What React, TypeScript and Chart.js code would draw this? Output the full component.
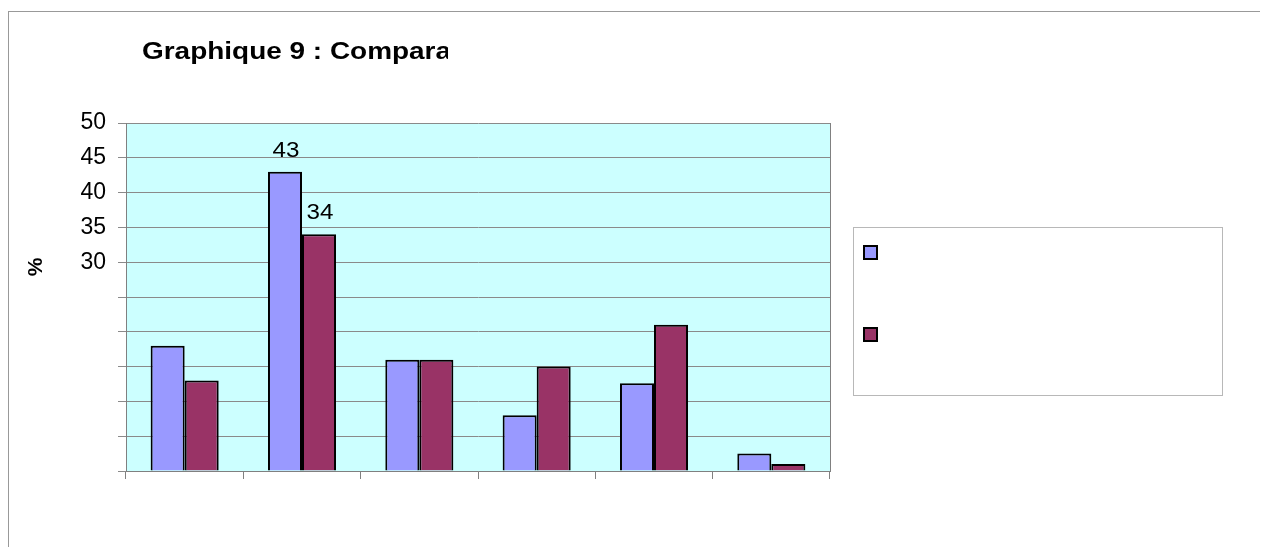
import { useEffect, useRef } from 'react';
import { Chart, registerables } from 'chart.js';

Chart.register(...registerables);

const categories = ['', '', '', '', '', ''];
const series1 = [18, 43, 16, 8, 12.6, 2.5];
const series2 = [13, 34, 16, 15, 21, 1];
const seriesLabels = ['', ''];
const seriesColors = ['#9999ff', '#993366'];
const yTickLabelsShown = [30, 35, 40, 45, 50];
const titleText = 'Graphique 9 : Compara';
const yTitle = '%';

const W = 1260;
const H = 540;

const decorPlugin = {
  id: 'decor',
  beforeDraw(chart: any) {
    const { ctx, chartArea } = chart;
    ctx.save();
    ctx.fillStyle = '#ccffff';
    ctx.fillRect(chartArea.left, chartArea.top, chartArea.right - chartArea.left, chartArea.bottom - chartArea.top);
    ctx.restore();
  },
  beforeDatasetsDraw(chart: any) {
    const { ctx, chartArea } = chart;
    ctx.save();
    ctx.strokeStyle = '#808080';
    ctx.lineWidth = 1;
    ctx.beginPath();
    ctx.moveTo(Math.round(chartArea.right) + 0.5, chartArea.top);
    ctx.lineTo(Math.round(chartArea.right) + 0.5, chartArea.bottom);
    ctx.stroke();
    ctx.restore();
  },
  afterDraw(chart: any) {
    const { ctx } = chart;
    // Title (clipped like the original)
    ctx.save();
    ctx.beginPath();
    ctx.rect(0, 0, 439, 120);
    ctx.clip();
    ctx.translate(133, 47);
    ctx.scale(1.215, 1);
    ctx.font = 'bold 23px "Liberation Sans", Arial, sans-serif';
    ctx.fillStyle = '#000';
    ctx.textBaseline = 'alphabetic';
    ctx.fillText(titleText, 0, 0);
    ctx.restore();

    // Y axis title
    ctx.save();
    ctx.translate(27, 255);
    ctx.rotate(-Math.PI / 2);
    ctx.font = 'bold 21px "Liberation Sans", Arial, sans-serif';
    ctx.fillStyle = '#000';
    ctx.textAlign = 'center';
    ctx.textBaseline = 'middle';
    ctx.fillText(yTitle, 0, 0);
    ctx.restore();

    // Value labels on series maxima
    chart.data.datasets.forEach((ds: any, di: number) => {
      const vals = ds.data as number[];
      let mi = 0;
      vals.forEach((v, i) => { if (v > vals[mi]) mi = i; });
      const el = chart.getDatasetMeta(di).data[mi];
      ctx.save();
      ctx.translate(el.x + 1, el.y - 15);
      ctx.scale(1.1, 1);
      ctx.font = '22px "Liberation Sans", Arial, sans-serif';
      ctx.fillStyle = '#000';
      ctx.textAlign = 'center';
      ctx.textBaseline = 'alphabetic';
      ctx.fillText(String(vals[mi]), 0, 0);
      ctx.restore();
    });

    // Legend box
    ctx.save();
    ctx.fillStyle = '#ffffff';
    ctx.fillRect(844, 215, 369, 168);
    ctx.strokeStyle = '#b8b8b8';
    ctx.lineWidth = 1;
    ctx.strokeRect(844.5, 215.5, 369, 168);
    chart.data.datasets.forEach((ds: any, di: number) => {
      const y = 233 + di * 82;
      ctx.fillStyle = ds.backgroundColor;
      ctx.fillRect(854, y, 15, 15);
      ctx.strokeStyle = '#000';
      ctx.lineWidth = 2;
      ctx.strokeRect(855, y + 1, 13, 13);
      ctx.fillStyle = '#000';
      ctx.font = '18px "Liberation Sans", Arial, sans-serif';
      ctx.textBaseline = 'middle';
      ctx.fillText(ds.label, 880, y + 8);
    });
    ctx.restore();
  },
};

export default function App() {
  const ref = useRef<HTMLCanvasElement | null>(null);
  useEffect(() => {
    if (!ref.current) return;
    const chart = new Chart(ref.current, {
      type: 'bar',
      data: {
        labels: categories,
        datasets: [
          { label: seriesLabels[0], data: series1, backgroundColor: seriesColors[0], borderColor: '#000', borderWidth: 2, barPercentage: 1, categoryPercentage: 0.58 },
          { label: seriesLabels[1], data: series2, backgroundColor: seriesColors[1], borderColor: '#000', borderWidth: 2, barPercentage: 1, categoryPercentage: 0.58 },
        ],
      },
      options: {
        responsive: false,
        animation: false,
        layout: { padding: { top: 111, right: 439, left: 0, bottom: 0 } },
        plugins: {
          legend: { display: false },
          title: { display: false },
          tooltip: { enabled: false },
        },
        scales: {
          x: {
            grid: { drawOnChartArea: false, offset: true, tickLength: 8, color: '#808080' },
            border: { color: '#808080' },
            ticks: { display: true },
            afterFit: (s: any) => { s.height = 81; },
          },
          y: {
            min: 0,
            max: 50,
            ticks: {
              stepSize: 5,
              padding: 12,
              color: '#000',
              font: { family: '"Liberation Sans", Arial, sans-serif', size: 23 },
              callback: (v: any) => (yTickLabelsShown.includes(Number(v)) ? String(v) : ''),
            },
            grid: { color: '#8a8a8a', tickLength: 8 },
            border: { color: '#808080' },
            afterFit: (s: any) => { s.width = 117; },
          },
        },
      },
      plugins: [decorPlugin],
    });
    return () => chart.destroy();
  }, []);
  return (
    <div style={{ marginTop: 3, border: '1px solid #999', width: W, height: H, background: '#fff' }}>
      <canvas ref={ref} width={W} height={H} style={{ display: 'block' }} />
    </div>
  );
}
